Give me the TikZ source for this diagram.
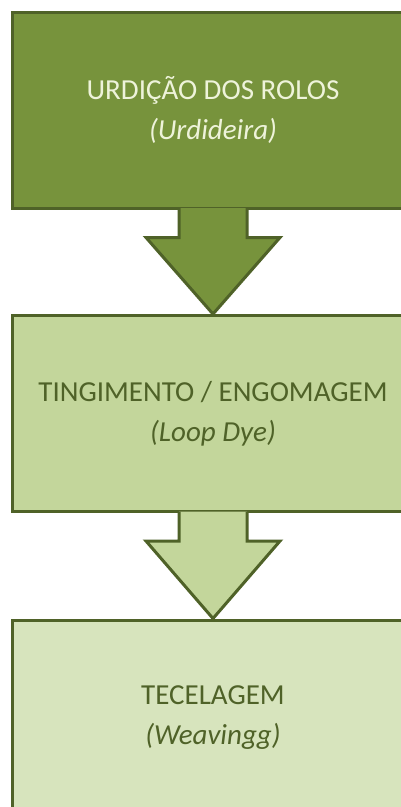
\documentclass[tikz,border=0pt]{standalone}
\usepackage{fontspec}
\setmainfont{Carlito}
\usepackage{tikz}
\usetikzlibrary{calc}
\definecolor{leafdark}{HTML}{77933C}
\definecolor{leafmid}{HTML}{C3D69B}
\definecolor{leaflight}{HTML}{D7E4BD}
\definecolor{rim}{HTML}{4F6228}
\definecolor{cream}{HTML}{EEF3DA}

\tikzset{
    stage/.style={draw=rim, line width=3pt, rectangle, minimum width=402pt, minimum height=196pt,
        align=center, font=\fontsize{29}{40}\selectfont},
    flowarrow/.style={draw=rim, line width=3pt, line join=miter},
}

\begin{document}
\begin{tikzpicture}[x=1pt, y=-1pt]
            \useasboundingbox (0,0) rectangle (401,807);
            \clip (0,0) rectangle (401,807);
            \fill[white] (0,0) rectangle (401,807);

            \node[stage, fill=leafdark, text=cream] (urdicao) at (213,110) {URDIÇÃO DOS ROLOS\\\textit{(Urdideira)}};
            \node[stage, fill=leafmid, text=rim] (tingimento) at (213,413.5) {TINGIMENTO / ENGOMAGEM\\\textit{(Loop Dye)}};
            \node[stage, fill=leaflight, text=rim] (tecelagem) at (213,718) {TECELAGEM\\\textit{(Weavingg)}};

            \draw[flowarrow, fill=leafdark] ($(urdicao.south)+(-34,-1.5)$) -- ++(0,29.5) -- ++(-33,0)
                -- (tingimento.north) -- ($(urdicao.south)+(67,28)$) -- ++(-33,0) -- ++(0,-29.5);
            \draw[flowarrow, fill=leafmid] ($(tingimento.south)+(-34,-1.5)$) -- ++(0,29.5) -- ++(-33,0)
                -- (tecelagem.north) -- ($(tingimento.south)+(67,28)$) -- ++(-33,0) -- ++(0,-29.5);
        \end{tikzpicture}
\end{document}
